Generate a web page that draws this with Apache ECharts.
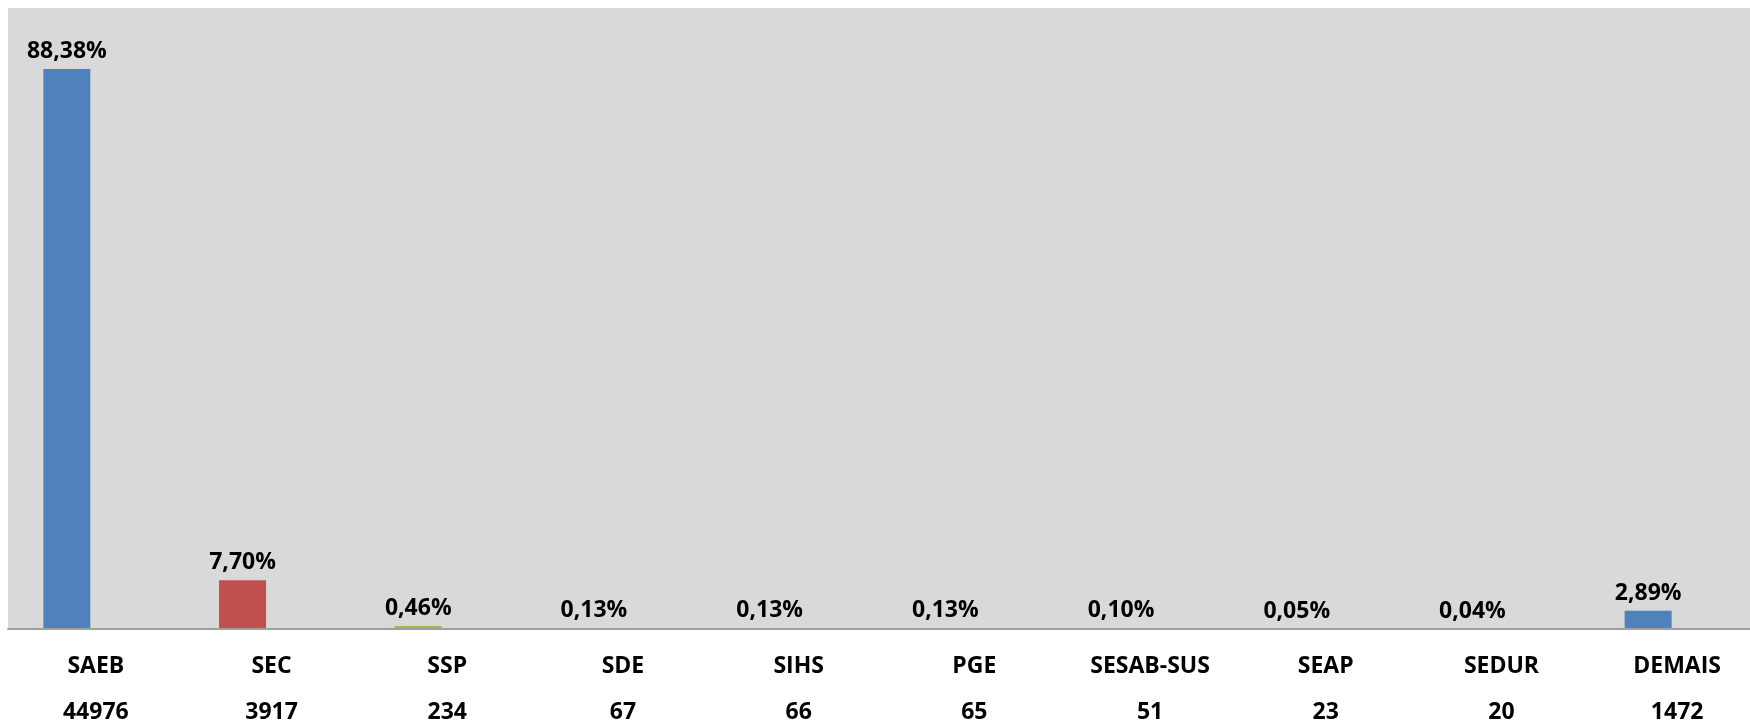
<!DOCTYPE html>
<html>
<head>
<meta charset="utf-8">
<script src="https://cdn.jsdelivr.net/npm/echarts@6/dist/echarts.min.js"></script>
<style>
  html, body { margin: 0; padding: 0; background: #fff; }
  #chart { width: 1750px; height: 724px; }
</style>
</head>
<body>
<div id="chart"></div>
<script>
// categorias e valores
const orgaos = ['SAEB', 'SEC', 'SSP', 'SDE', 'SIHS', 'PGE', 'SESAB-SUS', 'SEAP', 'SEDUR', 'DEMAIS'];
const quantidades = [44976, 3917, 234, 67, 66, 65, 51, 23, 20, 1472];
const percentuais = [88.38, 7.70, 0.46, 0.13, 0.13, 0.13, 0.10, 0.05, 0.04, 2.89];

// cores padrão do Excel
const cores = ['#4f81bd', '#c0504d', '#9bbb59', '#8064a2', '#4bacc6', '#f79646', '#4f81bd', '#c0504d', '#9bbb59', '#4f81bd'];

const fonte = "'Open Sans', 'DejaVu Sans', sans-serif";

const chart = echarts.init(document.getElementById('chart'));

chart.setOption({
  animation: false,
  backgroundColor: '#fff',
  grid: {
    left: 8,
    width: 1757, // a área do gráfico original passa um pouco da borda direita
    top: 8,
    bottom: 95,
    outerBoundsMode: 'none',
    containLabel: false,
    show: true,
    backgroundColor: '#d9d9d9',
    borderWidth: 0,
  },
  xAxis: {
    type: 'category',
    data: orgaos,
    z: 5,
    axisLine: { lineStyle: { color: '#a0a0a0', width: 2 } },
    axisTick: { show: false },
    axisLabel: {
      margin: 19,
      interval: 0,
      formatter: (value, index) => `{n|${value}}\n{c|${quantidades[index]}}`,
      rich: {
        n: { fontFamily: fonte, fontWeight: 'bold', fontSize: 23, color: '#000', lineHeight: 36 },
        c: { fontFamily: fonte, fontWeight: 'bold', fontSize: 23, color: '#000', lineHeight: 56 },
      },
    },
  },
  yAxis: {
    type: 'value',
    min: 0,
    max: 98,
    show: false,
    splitLine: { show: false },
  },
  series: [
    {
      type: 'bar',
      barWidth: 47,
      barGap: '0%',
      data: percentuais.map((v, i) => ({ value: v, itemStyle: { color: cores[i] } })),
      label: {
        show: true,
        position: 'top',
        distance: 6,
        fontFamily: fonte,
        fontWeight: 'bold',
        fontSize: 23,
        color: '#000',
        formatter: p => p.value.toFixed(2).replace('.', ',') + '%',
      },
    },
    {
      // série vazia só para deslocar as barras à esquerda, como no original
      type: 'bar',
      barWidth: 58,
      silent: true,
      data: [],
    },
  ],
});
</script>
</body>
</html>
